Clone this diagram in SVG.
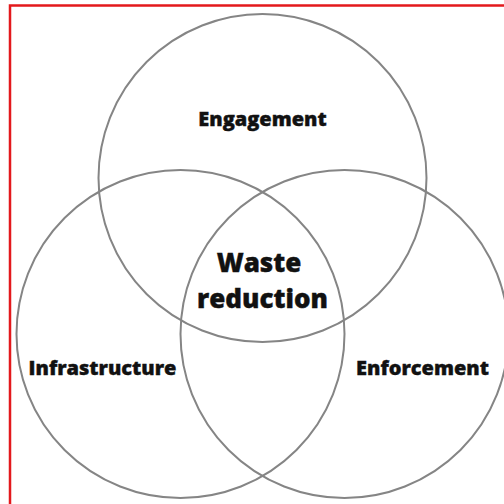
<svg xmlns="http://www.w3.org/2000/svg" width="504" height="504" viewBox="0 0 504 504">
<style>
.c{fill:none;stroke:#858585;stroke-width:2}
.t{font-family:"Open Sans","DejaVu Sans",sans-serif;font-weight:800;fill:#111;stroke:#111;stroke-width:0.4;text-anchor:middle}
.s{font-size:20px}
.b{font-size:26px}
</style>
<rect width="504" height="504" fill="#fff"/>
<path d="M10,504 V5.5 H504" fill="none" stroke="#e3191c" stroke-width="2.5"/>
<g id="engagement">
<circle class="c" cx="262.5" cy="178" r="164"/>
<text class="t s" x="262.5" y="126">Engagement</text>
</g>
<g id="infrastructure">
<circle class="c" cx="180.5" cy="334" r="164"/>
<text class="t s" x="102.5" y="375">Infrastructure</text>
</g>
<g id="enforcement">
<circle class="c" cx="344.5" cy="334" r="164"/>
<text class="t s" x="422.5" y="375">Enforcement</text>
</g>
<g id="waste-reduction">
<text class="t b" x="259" y="272">Waste</text>
<text class="t b" x="262.5" y="308">reduction</text>
</g>
<g id="connectors"/>
</svg>
